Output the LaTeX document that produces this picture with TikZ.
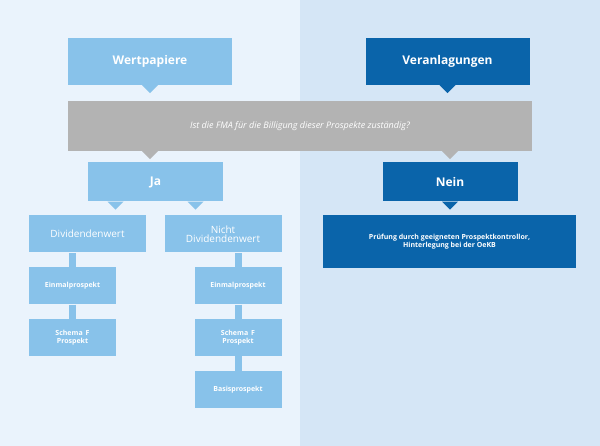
\documentclass[tikz,border=0pt]{standalone}
\usepackage{fontspec}
\setmainfont{Open Sans}
\usetikzlibrary{positioning}
\definecolor{bgleft}{HTML}{EAF3FC}
\definecolor{bgright}{HTML}{D5E6F6}
\definecolor{lightbox}{HTML}{88C2EA}
\definecolor{darkbox}{HTML}{0A64AA}
\definecolor{graybar}{HTML}{B3B3B3}
\begin{document}
\begin{tikzpicture}[
    x=1pt, y=-1pt,
    box/.style={rectangle, fill=lightbox, text=white, inner sep=0pt, align=center},
    head/.style={box, minimum width=164pt, minimum height=47pt, font=\large\bfseries},
    answer/.style={box, minimum width=135pt, minimum height=39pt, font=\large\bfseries},
    kind/.style={box, minimum width=117pt, minimum height=37pt, font=\normalsize},
    doc/.style={box, minimum width=87pt, minimum height=37pt, font=\scriptsize\bfseries},
    dark/.style={fill=darkbox},
    bar/.style={lightbox, line width=7pt},
    notch/.style={fill=#1}
]
\fill[bgleft] (0,0) rectangle (300,446);
\fill[bgright] (300,0) rectangle (600,446);
\useasboundingbox (0,0) rectangle (600,446);

% top row
\node[head] (wert) at (150,61.5) {Wertpapiere};
\node[head, dark] (veran) at (447.5,61.5) {Veranlagungen};
\node[box, fill=graybar, minimum width=464pt, minimum height=50pt, font=\small\itshape] (frage) at (300,126)
  {Ist die FMA für die Billigung dieser Prospekte zuständig?};
\node[answer] (ja) at (155.5,182) {Ja};
\node[answer, dark] (nein) at (450,182) {Nein};

% notches
\fill[lightbox] ([xshift=-8pt]wert.south) -- ([xshift=8pt]wert.south) -- ([yshift=-8pt]wert.south) -- cycle;
\fill[darkbox] ([xshift=-8pt]veran.south) -- ([xshift=8pt]veran.south) -- ([yshift=-8pt]veran.south) -- cycle;
\foreach \nx in {150,450}
  \fill[graybar] ([xshift=\nx-300-8]frage.south) -- ([xshift=\nx-300+8]frage.south) -- ([xshift=\nx-300,yshift=-8pt]frage.south) -- cycle;
\foreach \nx in {-40,40}
  \fill[lightbox] ([xshift=\nx-8]ja.south) -- ([xshift=\nx+8]ja.south) -- ([xshift=\nx,yshift=-8pt]ja.south) -- cycle;
\fill[darkbox] ([xshift=-8pt]nein.south) -- ([xshift=8pt]nein.south) -- ([yshift=-8pt]nein.south) -- cycle;

% right branch
\node[box, dark, minimum width=253pt, minimum height=53pt, font=\scriptsize\bfseries] (pruef) at (449.5,241.5)
  {Prüfung durch geeigneten Prospektkontrollor,\\Hinterlegung bei der OeKB};

% left branch
\node[kind] (div) at (87.5,234) {Dividendenwert};
\node[kind] (ndiv) at (223,234) {Nicht\\[-3pt]Dividendenwert};
\node[doc] (ein1) at (72.5,286) {Einmalprospekt};
\node[doc] (sch1) at (72.5,337.5) {Schema\, F\\Prospekt};
\node[doc] (ein2) at (238,286) {Einmalprospekt};
\node[doc] (sch2) at (238,337.5) {Schema\, F\\Prospekt};
\node[doc] (basis) at (238,389.5) {Basisprospekt};

\begin{scope}[on background layer/.try]
\draw[bar] (ein1.north) -- (ein1.north |- div.south);
\draw[bar] (ein1) -- (sch1);
\draw[bar] (ein2.north) -- (ein2.north |- ndiv.south);
\draw[bar] (ein2) -- (sch2);
\draw[bar] (sch2) -- (basis);
\end{scope}
\end{tikzpicture}
\end{document}
